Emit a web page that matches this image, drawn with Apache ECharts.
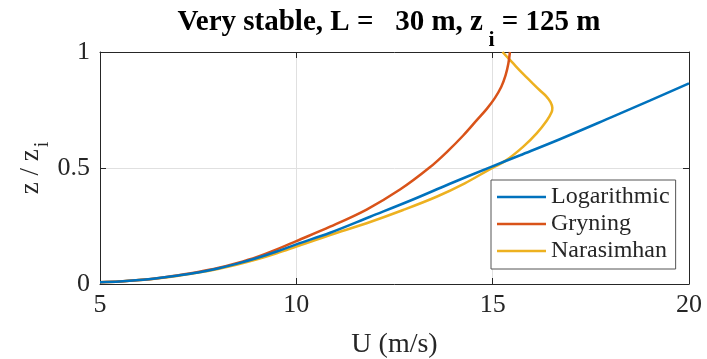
<!DOCTYPE html>
<html>
<head>
<meta charset="utf-8">
<script src="https://cdn.jsdelivr.net/npm/echarts@6/dist/echarts.min.js"></script>
<style>
  html, body { margin: 0; padding: 0; background: #ffffff; }
  #chart { width: 707px; height: 359px; }
</style>
</head>
<body>
<div id="chart"></div>
<script>
// Wind-speed profiles U(z) over a very stable boundary layer, height scaled by z_i
var seriesNames = ['Logarithmic', 'Gryning', 'Narasimhan'];

// [U (m/s), z / z_i]
var logarithmic = [
  [5.0, 0.008], [5.5, 0.011], [6.0, 0.017], [6.5, 0.026], [7.0, 0.037],
  [7.5, 0.050], [8.0, 0.067], [8.5, 0.088], [9.0, 0.112], [9.5, 0.140],
  [10.0, 0.171], [10.86, 0.221], [11.88, 0.290], [12.94, 0.362], [13.91, 0.432],
  [14.93, 0.503], [15.7, 0.555], [16.71, 0.624], [18.0, 0.717], [19.0, 0.790],
  [20.0, 0.865]
];
var gryning = [
  [5.0, 0.008], [5.5, 0.011], [6.0, 0.017], [6.5, 0.026], [7.0, 0.038],
  [7.5, 0.052], [8.0, 0.069], [8.5, 0.091], [9.0, 0.117], [9.5, 0.149],
  [10.0, 0.185], [10.86, 0.247], [11.79, 0.321], [12.64, 0.407], [13.4, 0.503],
  [13.87, 0.575], [14.25, 0.640], [14.59, 0.705], [14.85, 0.755], [15.05, 0.800],
  [15.22, 0.850], [15.33, 0.900], [15.40, 0.950], [15.44, 1.0]
];
var narasimhan = [
  [5.0, 0.008], [5.5, 0.011], [6.0, 0.017], [6.5, 0.025], [7.0, 0.036],
  [7.5, 0.049], [8.0, 0.065], [8.5, 0.084], [9.0, 0.106], [9.5, 0.132],
  [10.0, 0.161], [10.86, 0.211], [11.79, 0.262], [12.72, 0.319], [13.57, 0.376],
  [14.29, 0.434], [14.89, 0.491], [15.35, 0.534], [15.78, 0.592], [16.12, 0.649],
  [16.38, 0.705], [16.50, 0.740], [16.52, 0.760], [16.47, 0.785], [16.36, 0.810],
  [16.20, 0.835], [16.00, 0.868], [15.75, 0.910], [15.50, 0.955], [15.25, 1.0]
];

var xTicks = { min: 5, max: 20, interval: 5 };
var yTicks = { min: 0, max: 1, interval: 0.5 };

var colors = ['#0072BD', '#D95319', '#EDB120'];
var serif = '"Liberation Serif", "Times New Roman", serif';
var ink = '#262626';

var chart = echarts.init(document.getElementById('chart'), null, { renderer: 'canvas' });

function baseX(pos, show) {
  return {
    type: 'value', position: pos, min: xTicks.min, max: xTicks.max, interval: xTicks.interval,
    axisLine: { show: true, onZero: false, lineStyle: { color: ink, width: 1 } },
    axisTick: { show: true, inside: true, length: 6, lineStyle: { color: ink } },
    axisLabel: { show: show, color: ink, fontFamily: serif, fontSize: 26, margin: 8 },
    splitLine: { show: show, lineStyle: { color: '#e0e0e0', width: 1 } }
  };
}
function baseY(pos, show) {
  return {
    type: 'value', position: pos, min: yTicks.min, max: yTicks.max, interval: yTicks.interval,
    axisLine: { show: true, onZero: false, lineStyle: { color: ink, width: 1 } },
    axisTick: { show: true, inside: true, length: 6, lineStyle: { color: ink } },
    axisLabel: { show: show, color: ink, fontFamily: serif, fontSize: 26, margin: 10,
      formatter: function (v) { return String(v); } },
    splitLine: { show: show, lineStyle: { color: '#e0e0e0', width: 1 } }
  };
}

var xMain = baseX('bottom', true);
xMain.name = 'U (m/s)';
xMain.nameLocation = 'middle';
xMain.nameGap = 47;
xMain.nameMoveOverlap = false;
xMain.nameTextStyle = { color: ink, fontFamily: serif, fontSize: 28 };

var yMain = baseY('left', true);
yMain.name = '{m|z / z}{s|i}';
yMain.nameLocation = 'middle';
yMain.nameGap = 56;
yMain.nameMoveOverlap = false;
yMain.nameRotate = 90;
yMain.nameTextStyle = {
  color: ink, fontFamily: serif, fontSize: 27,
  rich: {
    m: { color: ink, fontFamily: serif, fontSize: 27, verticalAlign: 'bottom', lineHeight: 32 },
    s: { color: ink, fontFamily: serif, fontSize: 20, verticalAlign: 'bottom', lineHeight: 32, padding: [0, 0, -9, 2] }
  }
};

var lineSeries = [logarithmic, gryning, narasimhan].map(function (d, i) {
  return {
    name: seriesNames[i], type: 'line', data: d, xAxisIndex: 0, yAxisIndex: 0,
    smooth: 0.35, smoothMonotone: 'none', symbol: 'none', showSymbol: false, clip: true,
    lineStyle: { color: colors[i], width: 2.5 }, itemStyle: { color: colors[i] },
    z: 3 + (2 - i)
  };
});

chart.setOption({
  animation: false,
  backgroundColor: '#ffffff',
  grid: { left: 100, right: 18, top: 52, bottom: 75, containLabel: false, outerBoundsMode: 'none' },
  xAxis: [xMain, baseX('top', false)],
  yAxis: [yMain, baseY('right', false)],
  legend: {
    data: seriesNames.map(function (n) { return { name: n, icon: 'rect' }; }),
    orient: 'vertical', left: 491, top: 180,
    itemWidth: 49, itemHeight: 2.5, itemGap: 3,
    padding: [5, 6, 6, 6],
    backgroundColor: '#ffffff', borderColor: '#555555', borderWidth: 1,
    textStyle: { color: ink, fontFamily: serif, fontSize: 24, lineHeight: 24 }
  },
  graphic: [{
    type: 'text', x: 389, y: 20,
    style: {
      text: '{a|Very stable, L =   30 m, z}{s| i}{a| = 125 m}',
      align: 'center', verticalAlign: 'middle',
      rich: {
        a: { fontFamily: serif, fontWeight: 'bold', fontSize: 29, fill: '#000000', verticalAlign: 'bottom', lineHeight: 34 },
        s: { fontFamily: serif, fontWeight: 'bold', fontSize: 22, fill: '#000000', verticalAlign: 'bottom', lineHeight: 34, padding: [0, 0, -14, 0] }
      }
    }
  }],
  series: lineSeries
});
</script>
</body>
</html>
